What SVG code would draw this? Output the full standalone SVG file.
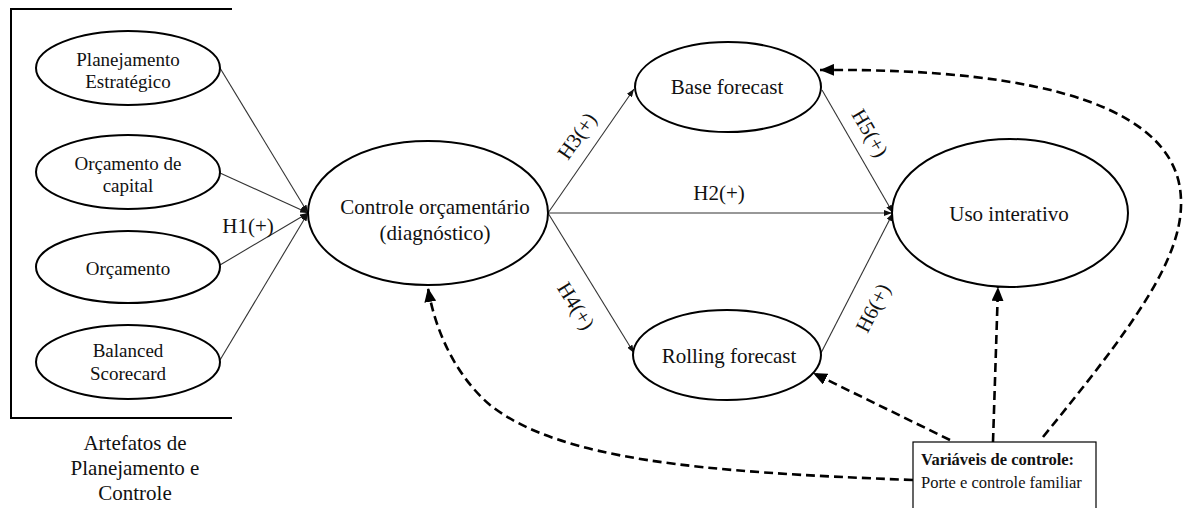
<svg xmlns="http://www.w3.org/2000/svg" width="1183" height="508" viewBox="0 0 1183 508">
<style>
.el{fill:#fff;stroke:#000;stroke-width:2}
.t{font-family:"Liberation Serif","Times New Roman",serif;font-size:21px;fill:#111;text-anchor:middle}
.ts{font-family:"Liberation Serif","Times New Roman",serif;font-size:19px;fill:#111;text-anchor:middle}
.tb{font-family:"Liberation Serif","Times New Roman",serif;font-size:16.5px;fill:#111}
.sl{fill:none;stroke:#333;stroke-width:1.1}
.dl{fill:none;stroke:#000;stroke-width:2.6;stroke-dasharray:9 5}
</style>
<defs>
<marker id="a" markerUnits="userSpaceOnUse" markerWidth="8" markerHeight="6" refX="8" refY="3" orient="auto"><path d="M0,0 L8,3 L0,6 z" fill="#111"/></marker>
<marker id="d" markerUnits="userSpaceOnUse" markerWidth="14" markerHeight="12" refX="14" refY="6" orient="auto"><path d="M0,0 L14,6 L0,12 z" fill="#000"/></marker>
</defs>

<g id="bracket">
<path d="M232,9 L11,9 L11,418 L232,418" fill="none" stroke="#000" stroke-width="2"/>
<text class="t" x="135" y="450">Artefatos de</text>
<text class="t" x="135" y="475">Planejamento e</text>
<text class="t" x="135" y="500">Controle</text>
</g>

<g id="connectors">
<line class="sl" x1="220" y1="68" x2="308" y2="213" marker-end="url(#a)"/>
<line class="sl" x1="220" y1="173" x2="308" y2="213" marker-end="url(#a)"/>
<line class="sl" x1="220" y1="265" x2="308" y2="213" marker-end="url(#a)"/>
<line class="sl" x1="220" y1="360" x2="308" y2="213" marker-end="url(#a)"/>
<line class="sl" x1="548" y1="213" x2="634" y2="89" marker-end="url(#a)"/>
<line class="sl" x1="548" y1="213" x2="892" y2="213" marker-end="url(#a)"/>
<line class="sl" x1="548" y1="213" x2="634" y2="353" marker-end="url(#a)"/>
<line class="sl" x1="822" y1="90" x2="893" y2="213" marker-end="url(#a)"/>
<line class="sl" x1="821" y1="353" x2="893" y2="213" marker-end="url(#a)"/>
<text class="t" x="248" y="233">H1(+)</text>
<text class="t" x="719" y="200">H2(+)</text>
<text class="t" transform="translate(577,136) rotate(-55)" y="7">H3(+)</text>
<text class="t" transform="translate(576,306) rotate(58)" y="7">H4(+)</text>
<text class="t" transform="translate(870,133) rotate(60)" y="7">H5(+)</text>
<text class="t" transform="translate(873,308) rotate(-63)" y="7">H6(+)</text>
<path class="dl" d="M993,442 L998,287" marker-end="url(#d)"/>
<path class="dl" d="M950,440 L813,373" marker-end="url(#d)"/>
<path class="dl" d="M1043,437 C1130,330 1183,260 1181,200 C1179,110 1050,68 820,70" marker-end="url(#d)"/>
<path class="dl" d="M913,480 C700,472 560,460 490,405 C455,375 435,330 428,288" marker-end="url(#d)"/>
</g>

<g id="n-planejamento">
<ellipse class="el" cx="128" cy="68" rx="92" ry="37"/>
<text class="ts" x="128" y="66">Planejamento</text>
<text class="ts" x="128" y="88">Estratégico</text>
</g>
<g id="n-orcamento-capital">
<ellipse class="el" cx="128" cy="172" rx="92" ry="37"/>
<text class="ts" x="128" y="170">Orçamento de</text>
<text class="ts" x="128" y="192">capital</text>
</g>
<g id="n-orcamento">
<ellipse class="el" cx="128" cy="267" rx="92" ry="36"/>
<text class="ts" x="128" y="275">Orçamento</text>
</g>
<g id="n-bsc">
<ellipse class="el" cx="128" cy="362" rx="92" ry="37"/>
<text class="ts" x="128" y="357">Balanced</text>
<text class="ts" x="128" y="380">Scorecard</text>
</g>
<g id="n-controle">
<ellipse class="el" cx="428" cy="213" rx="120" ry="72"/>
<text class="t" x="435" y="214">Controle orçamentário</text>
<text class="t" x="435" y="240">(diagnóstico)</text>
</g>
<g id="n-base">
<ellipse class="el" cx="728" cy="87" rx="93" ry="45"/>
<text class="t" x="727" y="94">Base forecast</text>
</g>
<g id="n-rolling">
<ellipse class="el" cx="727" cy="355" rx="94" ry="45"/>
<text class="t" x="729" y="363">Rolling forecast</text>
</g>
<g id="n-uso">
<ellipse class="el" cx="1010" cy="213" rx="118" ry="74"/>
<text class="t" x="1009" y="221">Uso interativo</text>
</g>
<g id="n-variaveis">
<rect x="913" y="442" width="183" height="80" fill="#fff" stroke="#000" stroke-width="1.2"/>
<text class="tb" x="921" y="465" font-weight="bold">Variáveis de controle:</text>
<text class="tb" x="921" y="488">Porte e controle familiar</text>
</g>
</svg>
